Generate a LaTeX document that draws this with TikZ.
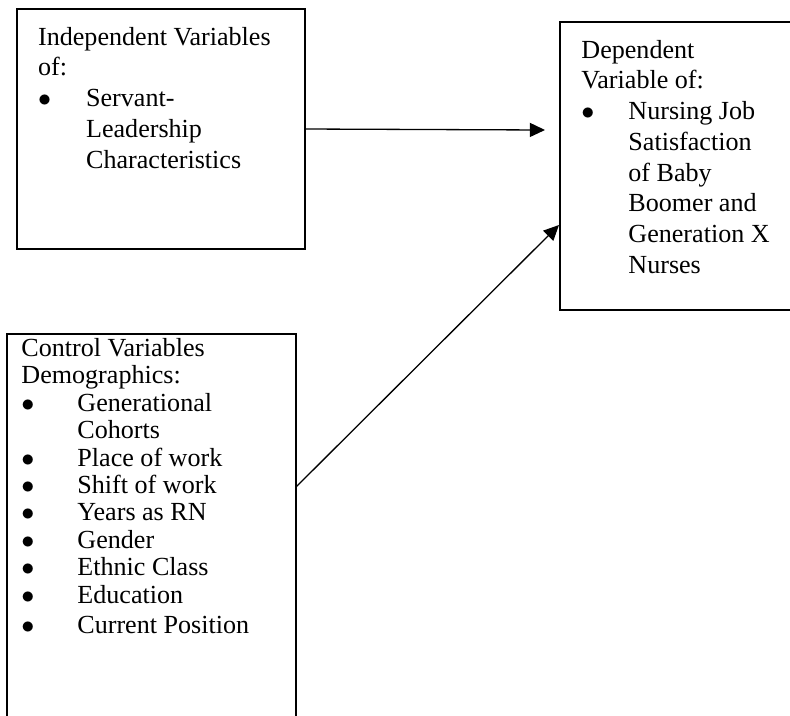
\documentclass[tikz,border=0pt]{standalone}
\usepackage{fontspec}
\setmainfont{Liberation Serif}
\usetikzlibrary{arrows.meta, positioning, fit}

% bullet line with hanging indent
\newlength{\bulind}
\newcommand{\bitem}[2][48]{\par\setlength{\bulind}{#1\dimexpr 0.46pt\relax}%
  \hangindent=\bulind\hangafter=1\noindent\makebox[\bulind][l]{$\bullet$}#2}
% top-aligned text block
\newcommand{\boxtext}[3]{\begin{minipage}[t]{#1\dimexpr 0.46pt\relax}\raggedright
  \fontsize{12}{#2}\selectfont #3\end{minipage}}

\begin{document}
\begin{tikzpicture}[
    x=0.46pt, y=-0.46pt,
    frame/.style={rectangle, draw, line width=0.6pt, inner sep=0pt},
    txt/.style={anchor=base west, inner sep=0pt},
    link/.style={-{Triangle[length=7pt, width=6.5pt]}, line width=0.6pt}
]
    \useasboundingbox (0,0) rectangle (790,715);

    % Boxes
    \node[frame, fit={(17,9) (305,249)}] (indep) {};
    \node[frame, fit={(560,22) (830,310)}] (dep) {};
    \node[frame, fit={(7,334) (296,760)}] (ctrl) {};

    % Box texts
    \node[txt] (indeptext) at (37.7,45) {\boxtext{262}{14.15}{Independent Variables\newline of:
        \bitem{Servant-\newline Leadership\newline Characteristics}}};
    \node[txt] (deptext) at (581,58) {\boxtext{205}{14.15}{Dependent\newline Variable of:
        \bitem[47]{Nursing Job\newline Satisfaction\newline of Baby\newline Boomer and\newline
          Generation X\newline Nurses}}};
    \node[txt] (ctrltext) at (21,356.5) {\boxtext{270}{12.6}{Control Variables\newline Demographics:
        \bitem[56]{Generational\newline Cohorts}
        \bitem[56]{Place of work}
        \bitem[56]{Shift of work}
        \bitem[56]{Years as RN}
        \bitem[56]{Gender}
        \bitem[56]{Ethnic Class}
        \bitem[56]{Education}\par\vspace{1.3pt}
        \bitem[56]{Current Position}}};

    % Arrows
    \coordinate (tip) at (545,130);
    \coordinate (from) at (296,487);
    \coordinate (to) at (559,225);
    \draw[link] (indep.east) -- (tip);
    \draw[link] (from) -- (to);

\end{tikzpicture}
\end{document}
